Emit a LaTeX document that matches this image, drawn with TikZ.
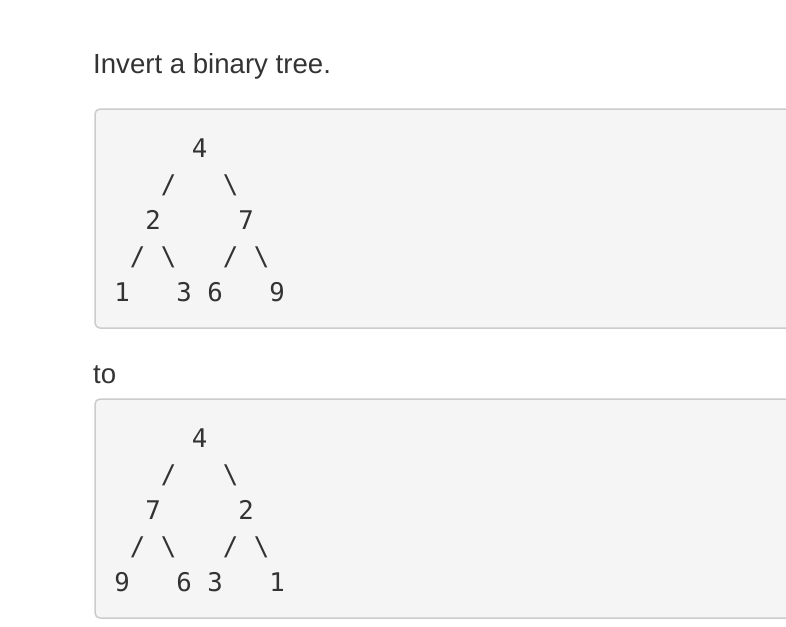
\documentclass[tikz,border=0pt]{standalone}
\usepackage{fontspec}
\setmainfont{Liberation Sans}
\newfontfamily\codefont{DejaVu Sans Mono}
\definecolor{txt}{HTML}{333333}
\definecolor{boxfill}{HTML}{F5F5F5}
\definecolor{boxline}{HTML}{CCCCCC}
\begin{document}
\begin{tikzpicture}[x=1pt,y=-1pt,
  prose/.style={font=\fontsize{27.6}{32}\selectfont, text=txt, anchor=base west, inner sep=0pt},
  codebox/.style={fill=boxfill, draw=boxline, line width=1.5pt, rounded corners=5pt},
  ch/.style={font=\codefont\fontsize{25.7}{30}\selectfont, text=txt, anchor=base, inner sep=0pt}]
\useasboundingbox (0,0) rectangle (786,626);
\fill[white] (0,0) rectangle (786,626);
\begin{scope}
\clip (0,0) rectangle (786,626);
\draw[codebox] (95,109) rectangle (830,328);
\draw[codebox] (95,399) rectangle (830,618);
\end{scope}
\node[prose] (title) at (93,73) {Invert a binary tree.};
\node[prose] (to) at (93,383) {to};
% tree 1 (before)
\foreach \name/\c/\r/\t in {a4/5/0/4, a1l/3/1/{/}, a1r/7/1/\textbackslash, a2/2/2/2, a7/8/2/7,
  a2l/1/3/{/}, a2r/3/3/\textbackslash, a7l/7/3/{/}, a7r/9/3/\textbackslash,
  a1/0/4/1, a3/4/4/3, a6/6/4/6, a9/10/4/9}
  \node[ch] (\name) at ({122+15.5*\c},{157+36*\r}) {\t};
% tree 2 (after)
\foreach \name/\c/\r/\t in {b4/5/0/4, b1l/3/1/{/}, b1r/7/1/\textbackslash, b7/2/2/7, b2/8/2/2,
  b7l/1/3/{/}, b7r/3/3/\textbackslash, b2l/7/3/{/}, b2r/9/3/\textbackslash,
  b9/0/4/9, b6/4/4/6, b3/6/4/3, b1/10/4/1}
  \node[ch] (\name) at ({122+15.5*\c},{447+36*\r}) {\t};
\end{tikzpicture}
\end{document}
